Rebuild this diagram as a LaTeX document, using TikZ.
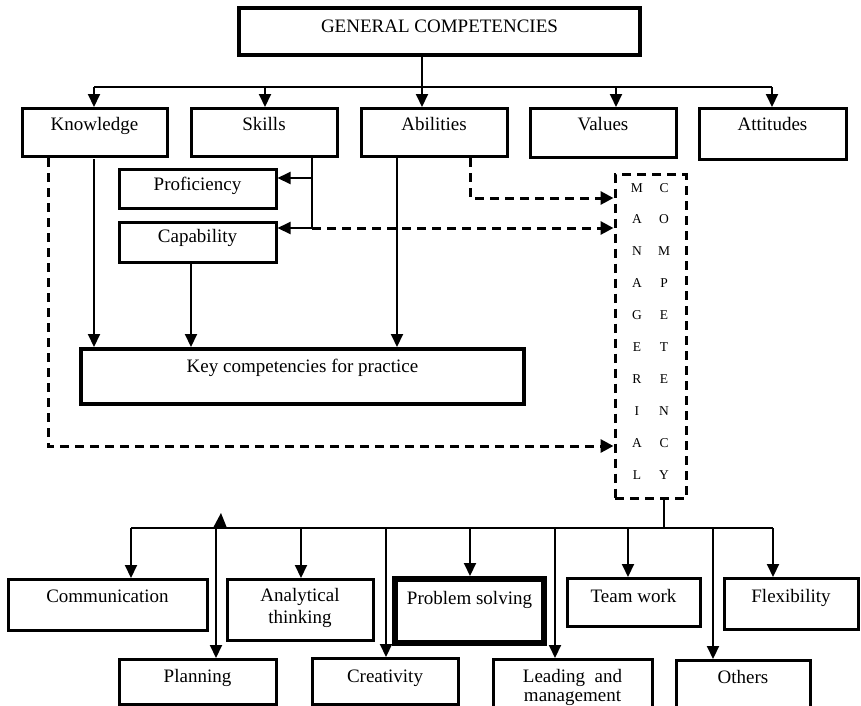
\documentclass[tikz,border=0pt]{standalone}
\usepackage{fontspec}
\setmainfont{Liberation Serif}
\usetikzlibrary{arrows.meta}

\newcommand{\twoline}[3][0pt]{\begin{tabular}[t]{@{}c@{}}#2\\[#1]#3\end{tabular}}

\begin{document}
\begin{tikzpicture}[x=1pt, y=-1pt, font=\fontsize{19}{22}\selectfont,
  box/.style={draw, line width=3pt, inner sep=0pt, anchor=north, align=center},
  rowbox/.style={box, minimum width=146pt, text height=22pt, text depth=26pt},
  link/.style={line width=2pt},
  arr/.style={line width=2pt, -{Triangle[width=12pt,length=13pt]}},
  dasharr/.style={line width=3pt, dash pattern=on 9pt off 6pt, -{Triangle[width=13pt,length=13pt]}}]
  \useasboundingbox (0,0) rectangle (861,705);

  % 1) General competencies and their five parts
  \node[box, line width=4pt, minimum width=401pt, text height=24pt, text depth=23pt] (gen) at (439.5,6) {GENERAL COMPETENCIES};
  \node[rowbox, minimum width=145pt] (know) at (94.5,107) {Knowledge};
  \node[rowbox] (skills) at (264,107) {Skills};
  \node[rowbox] (abil) at (434,107) {Abilities};
  \node[rowbox, text depth=27pt] (values) at (603,107) {Values};
  \node[rowbox, minimum width=147pt, text depth=29pt] (attit) at (772.5,107) {Attitudes};

  \coordinate (kx) at (94,87);
  \coordinate (sx) at (265,87);
  \coordinate (ax) at (422,87);
  \coordinate (vx) at (616,87);
  \coordinate (tx) at (772,87);
  \draw[link] (kx) -- (tx);
  \draw[arr] (ax |- gen.south) -- (ax |- abil.north);
  \draw[arr] (kx) -- (kx |- know.north);
  \draw[arr] (sx) -- (sx |- skills.north);
  \draw[arr] (vx) -- (vx |- values.north);
  \draw[arr] (tx) -- (tx |- attit.north);

  % 2) Skills split into proficiency and capability
  \node[box, minimum width=157pt, text height=21pt, text depth=18pt] (prof) at (197.5,168) {Proficiency};
  \node[box, minimum width=157pt, text height=20pt, text depth=20pt] (cap) at (197.5,221) {Capability};
  \coordinate (pj) at (312,178);
  \coordinate (sj) at (312,228);
  \draw[link] (sj |- skills.south) -- (sj);
  \draw[arr] (pj) -- (pj -| prof.east);
  \draw[arr] (sj) -- (sj -| cap.east);

  % 3) Key competencies
  \node[box, line width=3.5pt, minimum width=443pt, text height=23.5pt, text depth=31.5pt] (key) at (302.5,347) {Key competencies for practice};
  \coordinate (kk) at (94,159);
  \coordinate (ck) at (191,261);
  \coordinate (ak) at (397,157);
  \draw[arr] (kk) -- (kk |- key.north);
  \draw[arr] (ck) -- (ck |- key.north);
  \draw[arr] (ak) -- (ak |- key.north);

  % 4) Managerial competency, written downwards
  \node[box, dashed, dash pattern=on 9pt off 6pt, minimum width=71pt, text height=17.5pt, text depth=306.5pt] (mgr) at (650.5,173)
    {\fontsize{13.5}{31.9}\selectfont\setlength{\tabcolsep}{7.6pt}%
     \begin{tabular}[t]{cc}
       M & C\\ A & O\\ N & M\\ A & P\\ G & E\\ E & T\\ R & E\\ I & N\\ A & C\\ L & Y
     \end{tabular}};
  \coordinate (ad) at (470,198);
  \coordinate (kd) at (48,446);
  \draw[dasharr] (ad |- abil.south) -- (ad) -- (ad -| mgr.west);
  \draw[dasharr] (sj) -- (sj -| mgr.west);
  \draw[dasharr] (kd |- know.south) -- (kd) -- (kd -| mgr.west);

  % 5) Managerial competencies in practice
  \node[box, minimum width=199pt, text height=23pt, text depth=28pt] (comm) at (107.5,578) {Communication};
  \node[box, minimum width=146pt, text height=22pt, text depth=39pt] (anal) at (300,578) {\twoline{Analytical}{thinking}};
  \node[box, line width=6pt, minimum width=149pt, text height=25pt, text depth=39pt] (prob) at (469.5,576) {Problem solving};
  \node[box, minimum width=133pt, text height=24pt, text depth=24pt] (team) at (633.5,577) {Team work};
  \node[box, minimum width=134pt, text height=24pt, text depth=27pt] (flex) at (791,577) {Flexibility};
  \node[box, minimum width=157pt, text height=23pt, text depth=22pt] (plan) at (197.5,658) {Planning};
  \node[box, minimum width=146pt, text height=24pt, text depth=22pt] (crea) at (385,657) {Creativity};
  \node[box, minimum width=159pt, text height=23pt, text depth=40pt] (lead) at (572.5,658) {\twoline[-3.5pt]{Leading\ \ and}{management}};
  \node[box, minimum width=134pt, text height=23pt, text depth=50pt] (others) at (743,659) {Others};

  \coordinate (mx) at (664,528);
  \coordinate (b1) at (131,528);
  \coordinate (b2) at (216,528);
  \coordinate (b3) at (301,528);
  \coordinate (b4) at (386,528);
  \coordinate (b5) at (470,528);
  \coordinate (b6) at (555,528);
  \coordinate (b7) at (628,528);
  \coordinate (b8) at (713,528);
  \coordinate (b9) at (773,528);
  \draw[link] (mx |- mgr.south) -- (mx);
  \draw[link] (b1) -- (b9);
  \draw[arr] (b1) -- (b1 |- comm.north);
  \draw[arr] (b2) -- (b2 |- plan.north);
  \draw[arr] (b3) -- (b3 |- anal.north);
  \draw[arr] (b4) -- (b4 |- crea.north);
  \draw[arr] (b5) -- (b5 |- prob.north);
  \draw[arr] (b6) -- (b6 |- lead.north);
  \draw[arr] (b7) -- (b7 |- team.north);
  \draw[arr] (b8) -- (b8 |- others.north);
  \draw[arr] (b9) -- (b9 |- flex.north);
  \fill (213,528) -- (227,528) -- (221,513) -- cycle;
\end{tikzpicture}
\end{document}
